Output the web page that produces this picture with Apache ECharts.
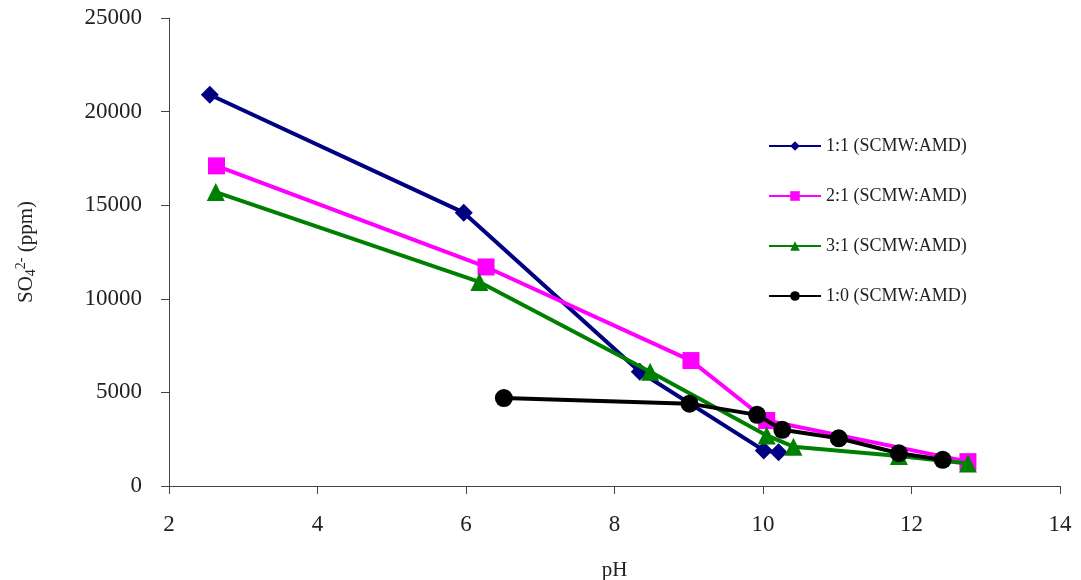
<!DOCTYPE html>
<html>
<head>
<meta charset="utf-8">
<script src="https://cdn.jsdelivr.net/npm/echarts@6/dist/echarts.min.js"></script>
<style>
  html, body { margin: 0; padding: 0; background: #fff; }
  #chart { width: 1081px; height: 580px; }
</style>
</head>
<body>
<div id="chart"></div>
<script>
  // pH / SO4 (ppm) pairs
  const names = ['1:1 (SCMW:AMD)', '2:1 (SCMW:AMD)', '3:1 (SCMW:AMD)', '1:0 (SCMW:AMD)'];
  const ratio11 = [[2.55, 20900], [5.97, 14600], [8.34, 6100], [10.01, 1900], [10.21, 1800]];
  const ratio21 = [[2.64, 17100], [6.27, 11700], [9.03, 6700], [10.05, 3500], [12.76, 1300]];
  const ratio31 = [[2.63, 15700], [6.18, 10900], [8.48, 6100], [10.05, 2700], [10.41, 2100], [11.83, 1600], [12.76, 1200]];
  const ratio10 = [[6.51, 4700], [9.01, 4400], [9.92, 3800], [10.26, 3000], [11.02, 2550], [11.83, 1750], [12.42, 1400]];
  const colors = ['#000080', '#ff00ff', '#008000', '#000000'];

  const font = "'Liberation Serif', 'Times New Roman', serif";
  let myChart = echarts.init(document.getElementById('chart'));

  function line(i, data, symbol, size) {
    return {
      name: names[i],
      type: 'line',
      data: data,
      symbol: symbol,
      symbolSize: size,
      lineStyle: { color: colors[i], width: 4 },
      itemStyle: { color: colors[i] },
      z: 2 + i
    };
  }

  myChart.setOption({
    animation: false,
    grid: { left: 169, right: 21, top: 18, bottom: 94, outerBoundsMode: 'none' },
    legend: {
      orient: 'vertical',
      left: 768,
      top: 137,
      padding: 0,
      itemGap: 32,
      itemWidth: 52,
      itemHeight: 12,
      textStyle: { fontFamily: font, fontSize: 18, color: '#222' },
      data: names
    },
    xAxis: {
      type: 'value',
      min: 2,
      max: 14,
      interval: 2,
      name: 'pH',
      nameLocation: 'middle',
      nameGap: 74,
      nameTextStyle: { fontFamily: font, fontSize: 21, color: '#222' },
      splitLine: { show: false },
      axisLine: { lineStyle: { color: '#444', width: 1 } },
      axisTick: { inside: false, length: 8, lineStyle: { color: '#444' } },
      axisLabel: { margin: 27, fontFamily: font, fontSize: 23, color: '#222' }
    },
    yAxis: {
      type: 'value',
      min: 0,
      max: 25000,
      interval: 5000,
      name: 'SO{sub|4}{sup|2-} (ppm)',
      nameLocation: 'middle',
      nameGap: 131,
      nameRotate: 90,
      nameTextStyle: {
        fontFamily: font, fontSize: 21, color: '#222',
        rich: {
          sub: { fontFamily: font, fontSize: 14, color: '#222', padding: [10, 0, 0, 0] },
          sup: { fontFamily: font, fontSize: 14, color: '#222', padding: [0, 0, 10, 0] }
        }
      },
      splitLine: { show: false },
      axisLine: { show: true, lineStyle: { color: '#444', width: 1 } },
      axisTick: { show: true, length: 8, lineStyle: { color: '#444' } },
      axisLabel: {
        margin: 27, fontFamily: font, fontSize: 23, color: '#222',
        formatter: v => String(v)
      }
    },
    series: [
      line(0, ratio11, 'diamond', 18),
      line(1, ratio21, 'rect', 17),
      line(2, ratio31, 'triangle', 18),
      line(3, ratio10, 'circle', 18)
    ]
  });
</script>
</body>
</html>
